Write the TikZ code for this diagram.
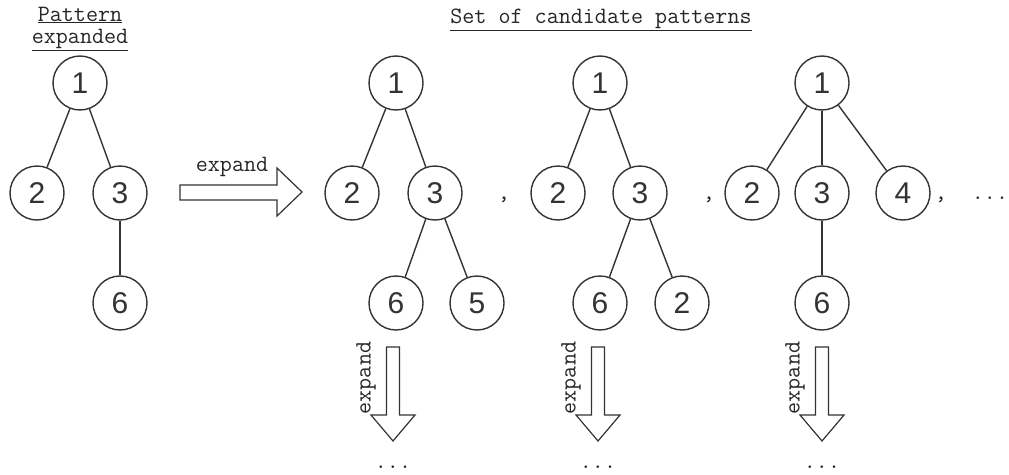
\documentclass[tikz,border=0pt]{standalone}
\usepackage{fontspec}
\setmainfont{Liberation Sans}
\begin{document}
\begin{tikzpicture}[x=1pt,y=-1pt,
  vtx/.style={circle,draw=black!80,line width=1.4pt,minimum size=54pt,inner sep=0pt,
    font=\fontsize{30}{30}\selectfont,text=black!80},
  edge/.style={draw=black!80,line width=1.4pt},
  lbl/.style={font=\ttfamily\fontsize{23.4}{25}\selectfont,text=black!85},
  sep/.style={font=\ttfamily\fontsize{23.4}{25}\selectfont,text=black!85,inner sep=0pt,anchor=base},
  hollow/.style={draw=black!80,line width=1.2pt,fill=white,line join=miter}]
\useasboundingbox (0,0) rectangle (1009,474);

% titles
\node[lbl] (t1) at (80,15) {\underline{Pattern}};
\node[lbl] (t2) at (80,40) {\underline{expanded}};
\node[lbl] (t3) at (601,20) {\underline{Set of candidate patterns}};

% pattern being expanded
\node[vtx] (p1) at (80,83) {1};
\node[vtx] (p2) at (37,193) {2};
\node[vtx] (p3) at (120,193) {3};
\node[vtx] (p6) at (120,303) {6};
\draw[edge] (p1) -- (p2);
\draw[edge] (p1) -- (p3);
\draw[edge] (p3) -- (p6);

% expansion arrow
\draw[hollow] (180,185) -- (277,185) -- (277,168) -- (302,192) -- (277,216)
  -- (277,200) -- (180,200) -- cycle;
\node[lbl] (exl) at (232,167) {expand};

% candidate A
\node[vtx] (a1) at (396,83) {1};
\node[vtx] (a2) at (352,193) {2};
\node[vtx] (a3) at (435,193) {3};
\node[vtx] (a6) at (396,303) {6};
\node[vtx] (a5) at (477,303) {5};
\draw[edge] (a1) -- (a2);
\draw[edge] (a1) -- (a3);
\draw[edge] (a3) -- (a6);
\draw[edge] (a3) -- (a5);

% candidate B
\node[vtx] (b1) at (600,83) {1};
\node[vtx] (b2) at (558,193) {2};
\node[vtx] (b3) at (640,193) {3};
\node[vtx] (b6) at (600,303) {6};
\node[vtx] (b7) at (682,303) {2};
\draw[edge] (b1) -- (b2);
\draw[edge] (b1) -- (b3);
\draw[edge] (b3) -- (b6);
\draw[edge] (b3) -- (b7);

% candidate C
\node[vtx] (c1) at (822,83) {1};
\node[vtx] (c2) at (752,193) {2};
\node[vtx] (c3) at (822,193) {3};
\node[vtx] (c4) at (903,193) {4};
\node[vtx] (c6) at (822,303) {6};
\draw[edge] (c1) -- (c2);
\draw[edge] (c1) -- (c3);
\draw[edge] (c1) -- (c4);
\draw[edge] (c3) -- (c6);

% separators
\node[sep] (s1) at (504,199) {,};
\node[sep] (s2) at (709,199) {,};
\node[sep] (s3) at (941,199) {,};
\node[sep] (s4) at (990,199) {...};

% further expansions
\foreach \n/\x in {da/393,db/598,dc/822}{
  \draw[hollow] (\x-6.5,347) -- (\x+6.5,347) -- (\x+6.5,415) -- (\x+22,415)
    -- (\x,441) -- (\x-22,415) -- (\x-6.5,415) -- cycle;
  \node[lbl,rotate=90] (\n l) at (\x-27,378) {expand};
  \node[sep] (\n d) at (\x,468) {...};
}
\end{tikzpicture}
\end{document}
